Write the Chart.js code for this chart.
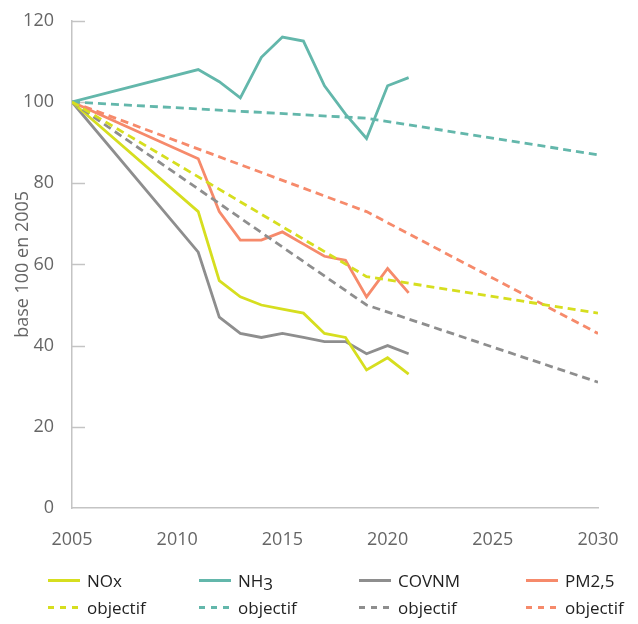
<!DOCTYPE html>
<html>
<head>
<meta charset="utf-8">
<script src="https://cdn.jsdelivr.net/npm/chart.js@4"></script>
<style>
  body { margin: 0; background: #fff; }
  #wrap { position: relative; width: 638px; height: 624px; }
  .leg { position: absolute; display: flex; align-items: center; height: 24px;
         font-family: 'Open Sans', sans-serif; font-size: 17px; color: #222; }
  .leg .sample { width: 32px; height: 3px; margin-right: 7px; }
</style>
</head>
<body>
<div id="wrap">
  <canvas id="chart" width="638" height="624"></canvas>
</div>
<script>
// years of the measured series
const years = [2005, 2011, 2012, 2013, 2014, 2015, 2016, 2017, 2018, 2019, 2020, 2021];
const nox   = [100, 73, 56, 52, 50, 49, 48, 43, 42, 34, 37, 33];
const nh3   = [100, 108, 105, 101, 111, 116, 115, 104, 97, 91, 104, 106];
const covnm = [100, 63, 47, 43, 42, 43, 42, 41, 41, 38, 40, 38];
const pm25  = [100, 86, 73, 66, 66, 68, 65, 62, 61, 52, 59, 53];

// objectives
const objYears  = [2005, 2019, 2030];
const noxObj    = [100, 57, 48];
const nh3Obj    = [100, 96, 87];
const covnmObj  = [100, 50, 31];
const pm25Obj   = [100, 73, 43];

const xTicks = [2005, 2010, 2015, 2020, 2025, 2030];
const yTicks = [0, 20, 40, 60, 80, 100, 120];

const names  = ['NOx', 'NH3', 'COVNM', 'PM2,5'];
const colors = ['#d6de1f', '#63b7ab', '#8e8e8e', '#f68a6b'];

const toPoints = (xs, ys) => xs.map((x, i) => ({ x: x, y: ys[i] }));

const series = [nox, nh3, covnm, pm25];
const objectives = [noxObj, nh3Obj, covnmObj, pm25Obj];

const datasets = [];
objectives.forEach((obj, i) => {
    datasets.push({
        label: 'objectif',
        data: toPoints(objYears, obj),
        borderColor: colors[i],
        borderWidth: 2.8,
        borderDash: [8, 5],
        pointRadius: 0,
        tension: 0
    });
});
series.forEach((s, i) => {
    datasets.push({
        label: names[i],
        data: toPoints(years, s),
        borderColor: colors[i],
        borderWidth: 2.8,
        pointRadius: 0,
        tension: 0
    });
});

// small inward tick marks on the y axis
const innerTicks = {
    id: 'innerTicks',
    beforeDatasetsDraw(chart) {
        const ctx = chart.ctx;
        const y = chart.scales.y;
        const left = chart.chartArea.left;
        ctx.save();
        ctx.strokeStyle = '#c4c4c4';
        ctx.lineWidth = 1.5;
        yTicks.forEach(v => {
            if (v === 0) return;
            const py = Math.round(y.getPixelForValue(v)) + 0.5;
            ctx.beginPath();
            ctx.moveTo(left, py);
            ctx.lineTo(left + 13, py);
            ctx.stroke();
        });
        ctx.restore();
    }
};

Chart.defaults.font.family = "'Open Sans', sans-serif";

new Chart(document.getElementById('chart').getContext('2d'), {
    type: 'line',
    data: { datasets },
    options: {
        responsive: false,
        animation: false,
        layout: { padding: { top: 19, right: 40, bottom: 0, left: 0 } },
        plugins: { legend: { display: false }, tooltip: { enabled: false } },
        scales: {
            x: {
                type: 'linear',
                min: 2005,
                max: 2030,
                afterFit: s => { s.height = 116; },
                afterBuildTicks: s => { s.ticks = xTicks.map(v => ({ value: v })); },
                grid: { display: false },
                border: { display: true, color: '#c4c4c4', width: 1.5 },
                ticks: { color: '#666', font: { size: 18 }, padding: 13, maxRotation: 0,
                         callback: v => String(v) }
            },
            y: {
                min: 0,
                max: 120,
                afterFit: s => { s.width = 72; },
                afterBuildTicks: s => { s.ticks = yTicks.map(v => ({ value: v })); },
                grid: { display: false },
                border: { display: true, color: '#c4c4c4', width: 1.5 },
                ticks: { color: '#666', font: { size: 18 }, padding: 10 },
                title: { display: true, text: 'base 100 en 2005', color: '#666',
                         font: { size: 18 }, padding: { top: 12, bottom: 0 } }
            }
        }
    },
    plugins: [innerTicks]
});

// legend: row 1 series, row 2 objectives
const wrap = document.getElementById('wrap');
const colLeft = [48, 199, 359, 526];
const rowTop = [568, 595];
names.forEach((n, i) => {
    [n, 'objectif'].forEach((label, r) => {
        const item = document.createElement('div');
        item.className = 'leg';
        item.style.left = colLeft[i] + 'px';
        item.style.top = rowTop[r] + 'px';
        const sample = document.createElement('span');
        sample.className = 'sample';
        if (r === 0) {
            sample.style.background = colors[i];
        } else {
            sample.style.background = 'repeating-linear-gradient(90deg, ' + colors[i] +
                ' 0 6px, transparent 6px 12px)';
        }
        const text = document.createElement('span');
        if (label === 'NH3') {
            text.innerHTML = 'NH<span style="font-size:17px;position:relative;top:3px">3</span>';
        } else {
            text.textContent = label;
        }
        item.appendChild(sample);
        item.appendChild(text);
        wrap.appendChild(item);
    });
});
</script>
</body>
</html>
